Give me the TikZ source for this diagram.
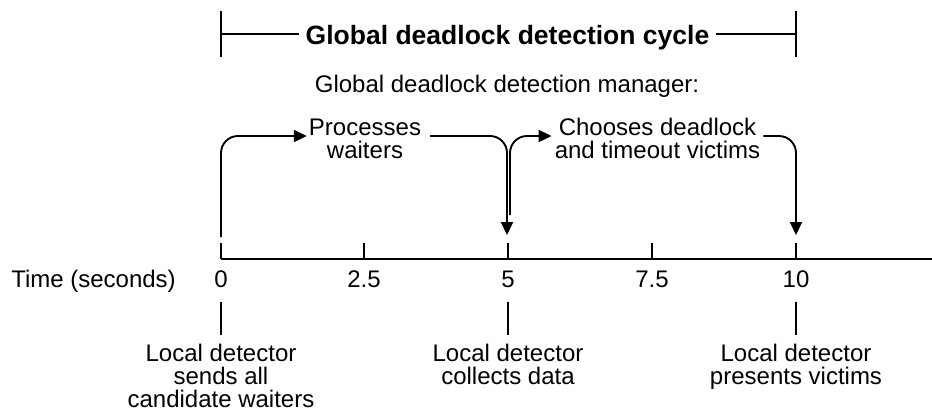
\documentclass[tikz,border=0pt]{standalone}
\usepackage{fontspec}
\setmainfont{Liberation Sans}
\usetikzlibrary{arrows.meta}
\begin{document}
\begin{tikzpicture}[x=1bp,y=-1bp,
  txt/.style={font=\fontsize{24bp}{23bp}\selectfont, align=center, inner sep=0pt},
  ttl/.style={font=\bfseries\fontsize{26.5bp}{28bp}\selectfont, inner xsep=7bp, inner ysep=0pt},
  arr/.style={line width=1.9bp, rounded corners=17bp, -{Triangle[length=13bp,width=12bp]}},
  thinline/.style={line width=1.6bp},
  axisline/.style={line width=2.6bp}]
\useasboundingbox (0,0) rectangle (932,412);

% top bracket
\node[ttl, anchor=base] (title) at (507.5,44) {Global deadlock detection cycle};
\coordinate (bLt) at (221,11); \coordinate (bLb) at (221,57);
\coordinate (bRt) at (796,11); \coordinate (bRb) at (796,57);
\coordinate (bLm) at (221,34); \coordinate (bRm) at (796,34);
\draw[thinline] (bLt) -- (bLb);
\draw[thinline] (bRt) -- (bRb);
\draw[thinline] (bLm) -- (bLm -| title.west);
\draw[thinline] (bRm -| title.east) -- (bRm);

\node[txt, anchor=base] (mgr) at (507,92) {Global deadlock detection manager:};

% activity labels
\node[txt, inner xsep=2bp] (proc) at (365,138.5) {Processes\\waiters};
\node[txt, inner xsep=3bp] (choose) at (657.5,138.5) {Chooses deadlock\\and timeout victims};

% axis
\coordinate (ax0) at (221,259); \coordinate (axE) at (932,259);
\draw[axisline] (ax0) -- (axE);
\foreach \x/\n in {221/0,364/1,508/2,652/3,796/4}{
  \coordinate (tk\n) at (\x,259);
  \coordinate (tt\n) at (\x,243);
  \draw[thinline] (tk\n) -- (tt\n);
}
\node[txt, anchor=base] (lab0) at (221,287) {0};
\node[txt, anchor=base] (lab1) at (364,287) {2.5};
\node[txt, anchor=base] (lab2) at (508,287) {5};
\node[txt, anchor=base] (lab3) at (652,287) {7.5};
\node[txt, anchor=base] (lab4) at (796,287) {10};
\node[txt, anchor=base] (time) at (93.5,287) {Time (seconds)};

% arrows
\coordinate (s0) at (221,237);
\coordinate (t5) at (507,235);
\coordinate (s5) at (510,215);
\coordinate (t10) at (796,235);
\draw[arr] (s0) |- ([yshift=2.5bp]proc.west);
\draw[arr] ([xshift=7bp,yshift=2.5bp]proc.east) -| (t5);
\draw[arr] (s5) |- ([yshift=2.5bp]choose.west);
\draw[arr] ([yshift=2.5bp]choose.east) -| (t10);

% bottom descriptions
\foreach \x/\n in {221/0,508/2,796/4}{
  \coordinate (d\n t) at (\x,302);
  \coordinate (d\n b) at (\x,335);
  \draw[thinline] (d\n t) -- (d\n b);
}
\node[txt, anchor=north] (loc0) at (221,344) {Local detector\\sends all\\candidate waiters};
\node[txt, anchor=north] (loc2) at (508,344) {Local detector\\collects data};
\node[txt, anchor=north] (loc4) at (796,344) {Local detector\\presents victims};
\end{tikzpicture}
\end{document}
